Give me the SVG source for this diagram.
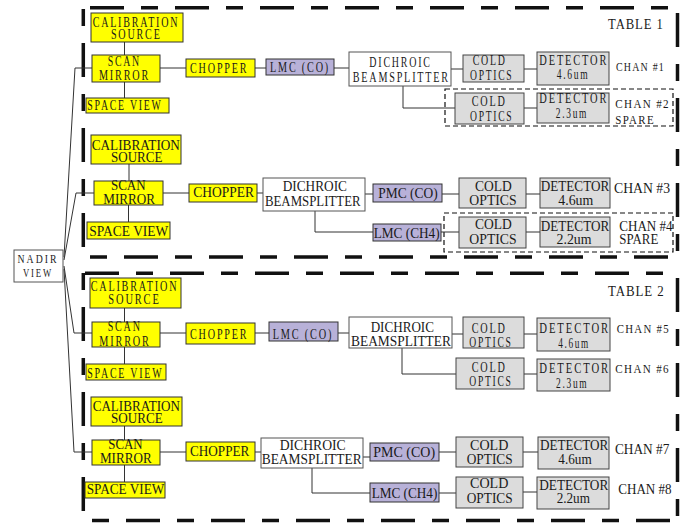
<svg xmlns="http://www.w3.org/2000/svg" width="681" height="523" viewBox="0 0 681 523">
<style>
.y{fill:#ffff00;stroke:#333;stroke-width:1}
.p{fill:#b8b1d8;stroke:#333;stroke-width:1}
.g{fill:#dcdcdc;stroke:#444;stroke-width:1}
.w{fill:#fff;stroke:#555;stroke-width:1}
.c{fill:none;stroke:#333;stroke-width:1}
.b{fill:none;stroke:#111;stroke-width:3.5}
.bh{stroke-dasharray:34 17 17 17}
.bs{stroke-dasharray:17 17 34 17}
.d{fill:none;stroke:#111;stroke-width:1.2;stroke-dasharray:5 3}
text{font-family:"Liberation Serif","Times New Roman",serif;fill:#1a1a1a}
.s{font-size:14px;letter-spacing:2.5px;text-anchor:middle}
.n{font-size:15px;text-anchor:middle}
.ls{font-size:12.5px;letter-spacing:1.5px}
.ln{font-size:15px}
.tl{font-size:14px;letter-spacing:1px}
</style>

<g id="borders">
<path class="b bh" d="M90,7.7H668"/>
<path class="b bs" d="M83.3,9V247"/>
<path class="b bs" d="M90,257H668"/>
<path class="b bh" d="M677.5,13V251"/>
<path class="b bh" d="M85,273.3H663"/>
<path class="b bs" d="M83.3,273V512"/>
<path class="b bs" d="M92,520.5H670"/>
<path class="b bh" d="M677.5,278V516"/>
<rect class="d" x="445" y="89" width="228" height="37"/>
<rect class="d" x="444" y="213" width="229" height="39"/>
</g>

<g id="connectors">
<path class="c" d="M64,257L75,68H92"/>
<path class="c" d="M64,260L76,193H94"/>
<path class="c" d="M64,266L74,333H92"/>
<path class="c" d="M64,269L74,452H92"/>
<path class="c" d="M124.5,42V55M124.5,82V98M160,68H186M255,68H266M334,68H349M451,69H463M524,69H537M403,86V108H455M524,108H537"/>
<path class="c" d="M129,164V181M128.5,205V222M163,193H189M257,193H263M365,194H373M442,194H459M526,194H540M315,211V232H373M441,232H459M526,232H540"/>
<path class="c" d="M124.5,308V322M124.5,347V364M160,333H186M255,333H269M338,333H349M452,334H463M524,334H537M402,348V374H456M524,374H537"/>
<path class="c" d="M124.5,426V440M124.5,465V482M160,452H186M255,452H261M363,457H370M439,452H456M523,452H538M312,468V493H370M439,493H456M523,492H537"/>
</g>

<g id="nadir"><rect class="w" x="14" y="250" width="49" height="32"/>
<text class="s" x="38" y="263.3" textLength="41" lengthAdjust="spacingAndGlyphs" style="font-size:12px">NADIR</text>
<text class="s" x="38" y="276.7" textLength="30" lengthAdjust="spacingAndGlyphs" style="font-size:12px">VIEW</text></g>

<g id="table1-label"><text class="tl" x="608" y="29.3" textLength="55.7" lengthAdjust="spacingAndGlyphs">TABLE 1</text></g>
<g id="table2-label"><text class="tl" x="608" y="296" textLength="56.7" lengthAdjust="spacingAndGlyphs">TABLE 2</text></g>

<!-- Group A -->
<g id="calA"><rect class="y" x="91" y="13" width="92" height="29"/>
<text class="s" x="136" y="27.3" textLength="86.7" lengthAdjust="spacingAndGlyphs">CALIBRATION</text>
<text class="s" x="136.3" y="39.3" textLength="50.7" lengthAdjust="spacingAndGlyphs">SOURCE</text></g>
<g id="mirrorA"><rect class="y" x="92" y="55" width="68" height="27"/>
<text class="s" x="124.3" y="66" textLength="33.3" lengthAdjust="spacingAndGlyphs">SCAN</text>
<text class="s" x="124.5" y="80" textLength="51" lengthAdjust="spacingAndGlyphs">MIRROR</text></g>
<g id="spaceA"><rect class="y" x="86" y="98" width="83" height="15"/>
<text class="s" x="125" y="110" textLength="75.3" lengthAdjust="spacingAndGlyphs">SPACE VIEW</text></g>
<g id="chopperA"><rect class="y" x="186" y="59" width="69" height="18"/>
<text class="s" x="219.2" y="72.7" textLength="58.3" lengthAdjust="spacingAndGlyphs">CHOPPER</text></g>
<g id="lmcA"><rect class="p" x="266" y="59" width="68" height="16"/>
<text class="s" x="300" y="71.7" textLength="60" lengthAdjust="spacingAndGlyphs">LMC (CO)</text></g>
<g id="dichroicA"><rect class="w" x="349" y="52" width="102" height="34"/>
<text class="s" x="400.5" y="66.7" textLength="62.3" lengthAdjust="spacingAndGlyphs">DICHROIC</text>
<text class="s" x="401.3" y="81.7" textLength="97.3" lengthAdjust="spacingAndGlyphs">BEAMSPLITTER</text></g>
<g id="cold1"><rect class="g" x="463" y="55" width="61" height="27"/>
<text class="s" x="489.7" y="65" textLength="34" lengthAdjust="spacingAndGlyphs">COLD</text>
<text class="s" x="491.7" y="80" textLength="43.3" lengthAdjust="spacingAndGlyphs">OPTICS</text></g>
<g id="det1"><rect class="g" x="537" y="52" width="72" height="33"/>
<text class="s" x="573.8" y="65" textLength="69" lengthAdjust="spacingAndGlyphs">DETECTOR</text>
<text class="s" x="573" y="79.3" textLength="32.7" lengthAdjust="spacingAndGlyphs">4.6um</text></g>
<g id="chan1"><text class="ls" x="616" y="70.7" textLength="49" lengthAdjust="spacingAndGlyphs">CHAN #1</text></g>
<g id="cold2"><rect class="g" x="455" y="93" width="69" height="31"/>
<text class="s" x="489.2" y="106" textLength="35" lengthAdjust="spacingAndGlyphs">COLD</text>
<text class="s" x="491.7" y="120.7" textLength="43.3" lengthAdjust="spacingAndGlyphs">OPTICS</text></g>
<g id="det2"><rect class="g" x="537" y="93" width="72" height="30"/>
<text class="s" x="573.8" y="103.3" textLength="69" lengthAdjust="spacingAndGlyphs">DETECTOR</text>
<text class="s" x="572" y="118.3" textLength="32.3" lengthAdjust="spacingAndGlyphs">2.3um</text></g>
<g id="chan2"><text class="ls" x="615.3" y="108.3" textLength="54.7" lengthAdjust="spacingAndGlyphs">CHAN #2</text>
<text class="ls" x="615.3" y="124" textLength="39.7" lengthAdjust="spacingAndGlyphs">SPARE</text></g>

<!-- Group B -->
<g id="calB"><rect class="y" x="91" y="135" width="90" height="29"/>
<text class="n" x="135.8" y="150" textLength="88.3" lengthAdjust="spacingAndGlyphs">CALIBRATION</text>
<text class="n" x="136.7" y="162.3" textLength="51.3" lengthAdjust="spacingAndGlyphs">SOURCE</text></g>
<g id="mirrorB"><rect class="y" x="94" y="181" width="69" height="24"/>
<text class="n" x="128.3" y="190" textLength="34.7" lengthAdjust="spacingAndGlyphs">SCAN</text>
<text class="n" x="129.2" y="204.3" textLength="51.7" lengthAdjust="spacingAndGlyphs">MIRROR</text></g>
<g id="spaceB"><rect class="y" x="87" y="222" width="83" height="17"/>
<text class="n" x="128.8" y="235.7" textLength="79" lengthAdjust="spacingAndGlyphs">SPACE VIEW</text></g>
<g id="chopperB"><rect class="y" x="189" y="184" width="68" height="18"/>
<text class="n" x="223.7" y="196.7" textLength="60.7" lengthAdjust="spacingAndGlyphs">CHOPPER</text></g>
<g id="dichroicB"><rect class="w" x="263" y="178" width="102" height="33"/>
<text class="n" x="314.8" y="191" textLength="64.3" lengthAdjust="spacingAndGlyphs">DICHROIC</text>
<text class="n" x="312.8" y="205.7" textLength="95.7" lengthAdjust="spacingAndGlyphs">BEAMSPLITTER</text></g>
<g id="pmcB"><rect class="p" x="373" y="184" width="69" height="18"/>
<text class="n" x="408" y="197.7" textLength="59.3" lengthAdjust="spacingAndGlyphs">PMC (CO)</text></g>
<g id="cold3"><rect class="g" x="459" y="178" width="67" height="30"/>
<text class="n" x="493.3" y="191" textLength="36.7" lengthAdjust="spacingAndGlyphs">COLD</text>
<text class="n" x="493" y="205" textLength="47.3" lengthAdjust="spacingAndGlyphs">OPTICS</text></g>
<g id="det3"><rect class="g" x="540" y="178" width="70" height="30"/>
<text class="n" x="575" y="191" textLength="68.3" lengthAdjust="spacingAndGlyphs">DETECTOR</text>
<text class="n" x="575.8" y="205" textLength="35" lengthAdjust="spacingAndGlyphs">4.6um</text></g>
<g id="chan3"><text class="ln" x="614" y="193.3" textLength="56" lengthAdjust="spacingAndGlyphs">CHAN #3</text></g>
<g id="lmcB"><rect class="p" x="373" y="224" width="68" height="17"/>
<text class="n" x="406.7" y="237.7" textLength="66" lengthAdjust="spacingAndGlyphs">LMC (CH4)</text></g>
<g id="cold4"><rect class="g" x="459" y="217" width="67" height="31"/>
<text class="n" x="493.3" y="229" textLength="36.7" lengthAdjust="spacingAndGlyphs">COLD</text>
<text class="n" x="493" y="244.3" textLength="47.3" lengthAdjust="spacingAndGlyphs">OPTICS</text></g>
<g id="det4"><rect class="g" x="540" y="217" width="70" height="30"/>
<text class="n" x="575" y="231" textLength="68.3" lengthAdjust="spacingAndGlyphs">DETECTOR</text>
<text class="n" x="574" y="244.3" textLength="35" lengthAdjust="spacingAndGlyphs">2.2um</text></g>
<g id="chan4"><text class="ln" x="619.3" y="231" textLength="53.3" lengthAdjust="spacingAndGlyphs">CHAN #4</text>
<text class="ln" x="619.3" y="244.3" textLength="39" lengthAdjust="spacingAndGlyphs">SPARE</text></g>

<!-- Group C -->
<g id="calC"><rect class="y" x="90" y="278" width="91" height="30"/>
<text class="s" x="134.5" y="291" textLength="87.7" lengthAdjust="spacingAndGlyphs">CALIBRATION</text>
<text class="s" x="134.5" y="304.3" textLength="52.3" lengthAdjust="spacingAndGlyphs">SOURCE</text></g>
<g id="mirrorC"><rect class="y" x="92" y="322" width="68" height="25"/>
<text class="s" x="124.7" y="331" textLength="34" lengthAdjust="spacingAndGlyphs">SCAN</text>
<text class="s" x="125" y="345.7" textLength="51.3" lengthAdjust="spacingAndGlyphs">MIRROR</text></g>
<g id="spaceC"><rect class="y" x="86" y="364" width="80" height="16"/>
<text class="s" x="125.3" y="377.7" textLength="76" lengthAdjust="spacingAndGlyphs">SPACE VIEW</text></g>
<g id="chopperC"><rect class="y" x="186" y="323" width="69" height="21"/>
<text class="s" x="219.2" y="339" textLength="58.3" lengthAdjust="spacingAndGlyphs">CHOPPER</text></g>
<g id="lmcC"><rect class="p" x="269" y="322" width="69" height="19"/>
<text class="s" x="303" y="339" textLength="60.7" lengthAdjust="spacingAndGlyphs">LMC (CO)</text></g>
<g id="dichroicC"><rect class="w" x="349" y="317" width="103" height="31"/>
<text class="n" x="402.3" y="331.7" textLength="63.3" lengthAdjust="spacingAndGlyphs">DICHROIC</text>
<text class="n" x="401" y="346" textLength="100" lengthAdjust="spacingAndGlyphs">BEAMSPLITTER</text></g>
<g id="cold5"><rect class="g" x="463" y="317" width="61" height="31"/>
<text class="s" x="489.2" y="332.7" textLength="35" lengthAdjust="spacingAndGlyphs">COLD</text>
<text class="s" x="491" y="346.7" textLength="43.3" lengthAdjust="spacingAndGlyphs">OPTICS</text></g>
<g id="det5"><rect class="g" x="537" y="318" width="73" height="33"/>
<text class="s" x="574.7" y="333.3" textLength="70.7" lengthAdjust="spacingAndGlyphs">DETECTOR</text>
<text class="s" x="574" y="347.7" textLength="31.7" lengthAdjust="spacingAndGlyphs">4.6um</text></g>
<g id="chan5"><text class="ls" x="616.7" y="333.3" textLength="53.3" lengthAdjust="spacingAndGlyphs">CHAN #5</text></g>
<g id="cold6"><rect class="g" x="456" y="358" width="68" height="31"/>
<text class="s" x="489.2" y="371.7" textLength="35" lengthAdjust="spacingAndGlyphs">COLD</text>
<text class="s" x="491" y="386" textLength="43.3" lengthAdjust="spacingAndGlyphs">OPTICS</text></g>
<g id="det6"><rect class="g" x="537" y="359" width="73" height="32"/>
<text class="s" x="574.7" y="373.3" textLength="70.7" lengthAdjust="spacingAndGlyphs">DETECTOR</text>
<text class="s" x="572.2" y="387.7" textLength="32.3" lengthAdjust="spacingAndGlyphs">2.3um</text></g>
<g id="chan6"><text class="ls" x="615.3" y="373.3" textLength="54.7" lengthAdjust="spacingAndGlyphs">CHAN #6</text></g>

<!-- Group D -->
<g id="calD"><rect class="y" x="91" y="397" width="91" height="29"/>
<text class="n" x="136.3" y="410.7" textLength="87.3" lengthAdjust="spacingAndGlyphs">CALIBRATION</text>
<text class="n" x="136.8" y="423.3" textLength="51.7" lengthAdjust="spacingAndGlyphs">SOURCE</text></g>
<g id="mirrorD"><rect class="y" x="92" y="440" width="68" height="25"/>
<text class="n" x="125.5" y="449.3" textLength="34.3" lengthAdjust="spacingAndGlyphs">SCAN</text>
<text class="n" x="125.8" y="463.3" textLength="51.7" lengthAdjust="spacingAndGlyphs">MIRROR</text></g>
<g id="spaceD"><rect class="y" x="85" y="482" width="80" height="16"/>
<text class="n" x="125.5" y="494" textLength="77.7" lengthAdjust="spacingAndGlyphs">SPACE VIEW</text></g>
<g id="chopperD"><rect class="y" x="186" y="442" width="69" height="19"/>
<text class="n" x="219.7" y="456" textLength="59.3" lengthAdjust="spacingAndGlyphs">CHOPPER</text></g>
<g id="dichroicD"><rect class="w" x="261" y="438" width="102" height="30"/>
<text class="n" x="312.7" y="450" textLength="66" lengthAdjust="spacingAndGlyphs">DICHROIC</text>
<text class="n" x="311.7" y="464" textLength="100" lengthAdjust="spacingAndGlyphs">BEAMSPLITTER</text></g>
<g id="pmcD"><rect class="p" x="370" y="443" width="69" height="18"/>
<text class="n" x="404.2" y="456.7" textLength="61.7" lengthAdjust="spacingAndGlyphs">PMC (CO)</text></g>
<g id="cold7"><rect class="g" x="456" y="437" width="67" height="30"/>
<text class="n" x="489.2" y="450" textLength="38.3" lengthAdjust="spacingAndGlyphs">COLD</text>
<text class="n" x="489.7" y="464" textLength="46" lengthAdjust="spacingAndGlyphs">OPTICS</text></g>
<g id="det7"><rect class="g" x="538" y="437" width="71" height="32"/>
<text class="n" x="574.2" y="450" textLength="68.3" lengthAdjust="spacingAndGlyphs">DETECTOR</text>
<text class="n" x="575" y="464" textLength="33.3" lengthAdjust="spacingAndGlyphs">4.6um</text></g>
<g id="chan7"><text class="ln" x="615" y="454" textLength="54.3" lengthAdjust="spacingAndGlyphs">CHAN #7</text></g>
<g id="lmcD"><rect class="p" x="370" y="483" width="69" height="19"/>
<text class="n" x="404.5" y="498.3" textLength="65.7" lengthAdjust="spacingAndGlyphs">LMC (CH4)</text></g>
<g id="cold8"><rect class="g" x="456" y="477" width="67" height="31"/>
<text class="n" x="489.2" y="488.3" textLength="38.3" lengthAdjust="spacingAndGlyphs">COLD</text>
<text class="n" x="489.7" y="503.3" textLength="46" lengthAdjust="spacingAndGlyphs">OPTICS</text></g>
<g id="det8"><rect class="g" x="537" y="477" width="72" height="32"/>
<text class="n" x="573.8" y="490" textLength="69" lengthAdjust="spacingAndGlyphs">DETECTOR</text>
<text class="n" x="573.3" y="503.3" textLength="33.3" lengthAdjust="spacingAndGlyphs">2.2um</text></g>
<g id="chan8"><text class="ln" x="618.3" y="494" textLength="53.3" lengthAdjust="spacingAndGlyphs">CHAN #8</text></g>
</svg>
